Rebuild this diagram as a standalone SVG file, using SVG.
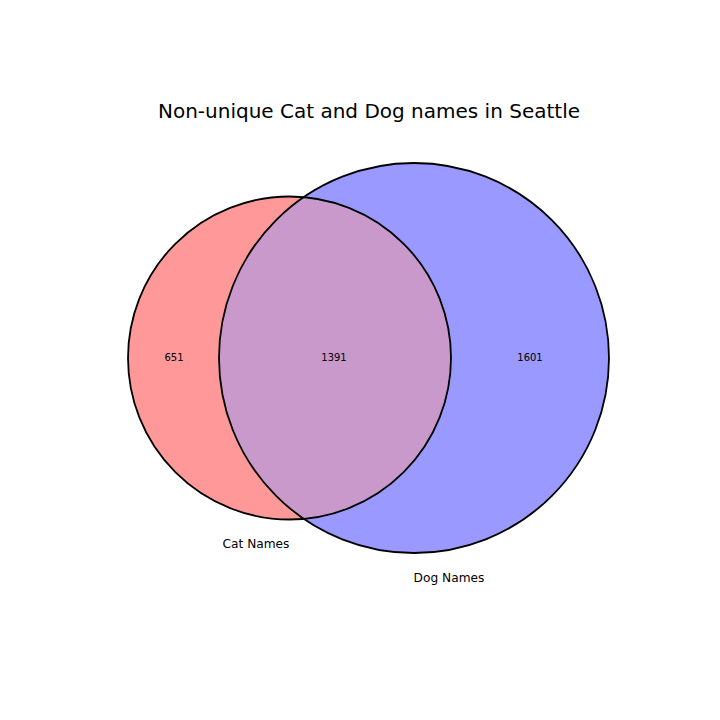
<svg xmlns="http://www.w3.org/2000/svg" width="720" height="720" viewBox="0 0 720 720">
<style>
text{font-family:"DejaVu Sans","Liberation Sans",sans-serif;fill:#000}
.title{font-size:20px}
.num{font-size:10px}
.lbl{font-size:12.2px}
.edge{fill:none;stroke:#000;stroke-width:1.8}
</style>
<rect width="720" height="720" fill="#fff"/>
<g id="cat"><circle cx="289.5" cy="358" r="161.5" fill="#ff9999"/></g>
<g id="dog"><circle cx="414" cy="358" r="195" fill="#9999ff"/></g>
<g id="overlap"><path d="M303.8,197.1 A195,195 0 0 0 303.8,518.9 A161.5,161.5 0 0 0 303.8,197.1 Z" fill="#c999cc"/></g>
<g id="outlines">
<circle class="edge" cx="289.5" cy="358" r="161.5"/>
<circle class="edge" cx="414" cy="358" r="195"/>
</g>
<g id="labels">
<text class="title" x="369" y="118" text-anchor="middle">Non-unique Cat and Dog names in Seattle</text>
<text class="num" x="174" y="361" text-anchor="middle">651</text>
<text class="num" x="334" y="361" text-anchor="middle">1391</text>
<text class="num" x="530" y="361" text-anchor="middle">1601</text>
<text class="lbl" x="256" y="548" text-anchor="middle">Cat Names</text>
<text class="lbl" x="449" y="582" text-anchor="middle">Dog Names</text>
</g>
</svg>
